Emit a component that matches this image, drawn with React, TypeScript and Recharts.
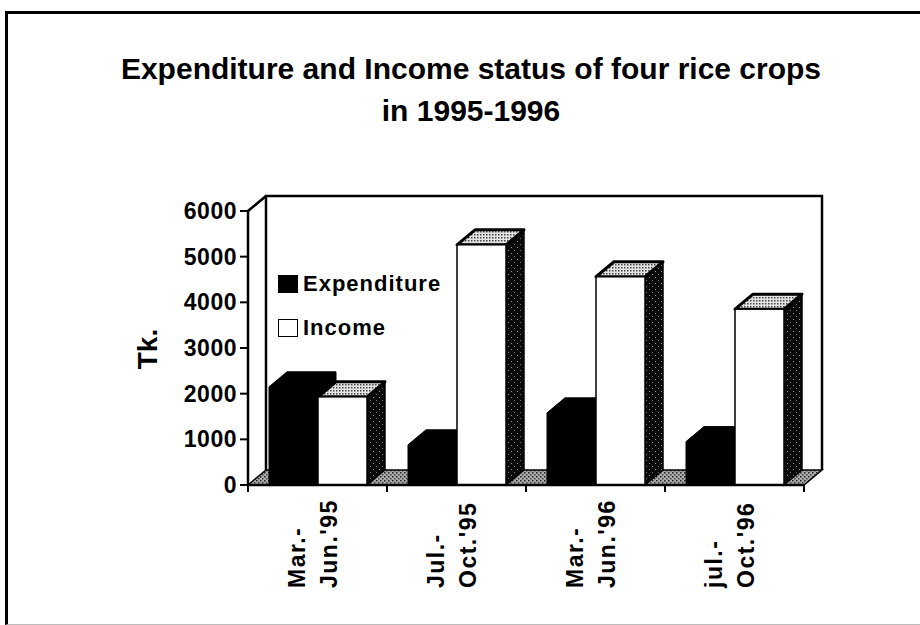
import { Bar, BarChart, Legend, ReferenceArea, XAxis, YAxis } from "recharts";

const categories = ["Mar.-\nJun.'95", "Jul.-\nOct.'95", "Mar.-\nJun.'96", "jul.-\nOct.'96"];
const expenditure = [2150, 880, 1580, 950];
const income = [1930, 5260, 4560, 3850];
const yTicks = [0, 1000, 2000, 3000, 4000, 5000, 6000];

const data = categories.map((name, i) => ({ name, expenditure: expenditure[i], income: income[i] }));

const FONT = "'Liberation Sans', Arial, Helvetica, sans-serif";
// depth of the fake 3d
const DX = 18;
const DY = 15;

function Walls(props: any) {
  const { x, y, width, height } = props;
  const bottom = y + height;
  const right = x + width;
  const n = categories.length;
  const step = width / n;
  return (
    <g>
      <defs>
        <pattern id="topHatch" width="3" height="3" patternUnits="userSpaceOnUse">
          <rect width="3" height="3" fill="#e4e4e4" />
          <rect width="1.5" height="1.5" fill="#444" />
        </pattern>
        <pattern id="sideSpeck" width="6" height="6" patternUnits="userSpaceOnUse">
          <rect width="6" height="6" fill="#0a0a0a" />
          <rect x="1" y="1" width="1" height="1" fill="#999" />
          <rect x="4" y="4" width="1" height="1" fill="#777" />
        </pattern>
        <pattern id="floorSpeck" width="4" height="4" patternUnits="userSpaceOnUse">
          <rect width="4" height="4" fill="#aaa" />
          <rect width="1.5" height="1.5" fill="#222" />
          <rect x="2" y="2" width="1.5" height="1.5" fill="#444" />
        </pattern>
      </defs>
      {/* back wall */}
      <polyline
        points={`${x + DX},${bottom - DY} ${x + DX},${y - DY} ${right + DX},${y - DY} ${right + DX},${bottom - DY}`}
        fill="#fff"
        stroke="#000"
        strokeWidth={2.5}
      />
      <line x1={x} y1={y} x2={x + DX} y2={y - DY} stroke="#000" strokeWidth={2.5} />
      {/* floor */}
      <polygon
        points={`${x},${bottom} ${x + DX},${bottom - DY} ${right + DX},${bottom - DY} ${right},${bottom}`}
        fill="url(#floorSpeck)"
        stroke="#000"
        strokeWidth={1.5}
      />
      {Array.from({ length: n + 1 }, (_, i) => (
        <line key={i} x1={x + i * step} y1={bottom} x2={x + i * step} y2={bottom + 7} stroke="#000" strokeWidth={2} />
      ))}
      <text
        transform={`translate(${x - 91},${y + height / 2 + 1}) rotate(-90)`}
        textAnchor="middle"
        fontFamily={FONT}
        fontWeight="bold"
        fontSize={28}
        fill="#000"
      >
        Tk.
      </text>
    </g>
  );
}

function ExpShape(props: any) {
  const { x, y, width, height } = props;
  if (!height) return null;
  const b = y + height;
  const pts = `${x},${y} ${x + DX},${y - DY} ${x + width + DX},${y - DY} ${x + width + DX},${b - DY} ${x + width},${b} ${x},${b}`;
  return <polygon points={pts} fill="#000" stroke="#000" strokeWidth={1} />;
}

function IncShape(props: any) {
  const { x, y, width, height } = props;
  if (!height) return null;
  const b = y + height;
  const r = x + width;
  return (
    <g>
      <polygon
        points={`${r},${y} ${r + DX},${y - DY} ${r + DX},${b - DY} ${r},${b}`}
        fill="url(#sideSpeck)"
        stroke="#000"
        strokeWidth={1.5}
      />
      <polygon
        points={`${x},${y} ${x + DX},${y - DY} ${r + DX},${y - DY} ${r},${y}`}
        fill="url(#topHatch)"
        stroke="#000"
        strokeWidth={3}
        strokeLinejoin="round"
      />
      <rect x={x} y={y} width={width} height={height} fill="#fff" stroke="#000" strokeWidth={1.5} />
    </g>
  );
}

function CatTick(props: any) {
  const { x, payload } = props;
  const lines = String(payload.value).split("\n");
  const offs = [-13, 19];
  return (
    <g>
      {lines.map((t, i) => (
        <text
          key={i}
          transform={`translate(${x + offs[i]},588) rotate(-90)`}
          textAnchor="start"
          fontFamily={FONT}
          fontWeight="bold"
          fontSize={23}
          letterSpacing={1.5}
          fill="#000"
        >
          {t}
        </text>
      ))}
    </g>
  );
}

function LegendBox(props: any) {
  const items = props.payload ?? [];
  return (
    <div style={{ fontFamily: FONT, fontWeight: "bold", fontSize: 22, letterSpacing: 1, color: "#000" }}>
      {items.map((it: any) => (
        <div key={it.value} style={{ display: "flex", alignItems: "center", height: 44 }}>
          <span
            style={{
              display: "inline-block",
              width: 18,
              height: 16,
              marginRight: 5,
              background: it.value === "Income" ? "#fff" : "#000",
              border: "1.5px solid #000",
            }}
          />
          <span>{it.value}</span>
        </div>
      ))}
    </div>
  );
}

export default function App() {
  return (
    <div style={{ position: "relative", width: 920, height: 625, background: "#fff", overflow: "hidden" }}>
      <style>{"body{margin:0}"}</style>
      <div
        style={{
          position: "absolute",
          left: 5,
          top: 11,
          width: 940,
          height: 610,
          borderLeft: "3px solid #000",
          borderTop: "3px solid #000",
          borderBottom: "1px solid #bbb",
        }}
      />
      <div
        style={{
          position: "absolute",
          left: 0,
          top: 48,
          width: 942,
          textAlign: "center",
          fontFamily: FONT,
          fontWeight: "bold",
          fontSize: 30,
          lineHeight: "42px",
          color: "#000",
        }}
      >
        <div>Expenditure and Income status of four rice crops</div>
        <div>in 1995-1996</div>
      </div>
      <div style={{ position: "absolute", left: 0, top: 0 }}>
        <BarChart
          width={920}
          height={625}
          data={data}
          margin={{ top: 211, right: 116, bottom: 30, left: 148 }}
          barSize={49}
          barGap={0}
        >
          <ReferenceArea y1={0} y2={6000} shape={(p: any) => <Walls {...p} />} />
          <XAxis
            dataKey="name"
            interval={0}
            height={110}
            tickLine={false}
            axisLine={{ stroke: "#000", strokeWidth: 2.5 }}
            tick={(p: any) => <CatTick {...p} />}
          />
          <YAxis
            width={100}
            domain={[0, 6000]}
            ticks={yTicks}
            tickSize={8}
            tickMargin={3}
            axisLine={{ stroke: "#000", strokeWidth: 2.5 }}
            tickLine={{ stroke: "#000", strokeWidth: 2 }}
            tick={{ fill: "#000", fontFamily: FONT, fontWeight: "bold", fontSize: 23, letterSpacing: 0.5 }}
          />
          <Legend
            layout="horizontal"
            verticalAlign="middle"
            align="center"
            wrapperStyle={{ left: 278, top: 262, width: "auto" }}
            content={(p: any) => <LegendBox {...p} />}
          />
          <Bar dataKey="expenditure" name="Expenditure" fill="#000" shape={(p: any) => <ExpShape {...p} />} isAnimationActive={false} />
          <Bar dataKey="income" name="Income" fill="#fff" shape={(p: any) => <IncShape {...p} />} isAnimationActive={false} />
        </BarChart>
      </div>
    </div>
  );
}
